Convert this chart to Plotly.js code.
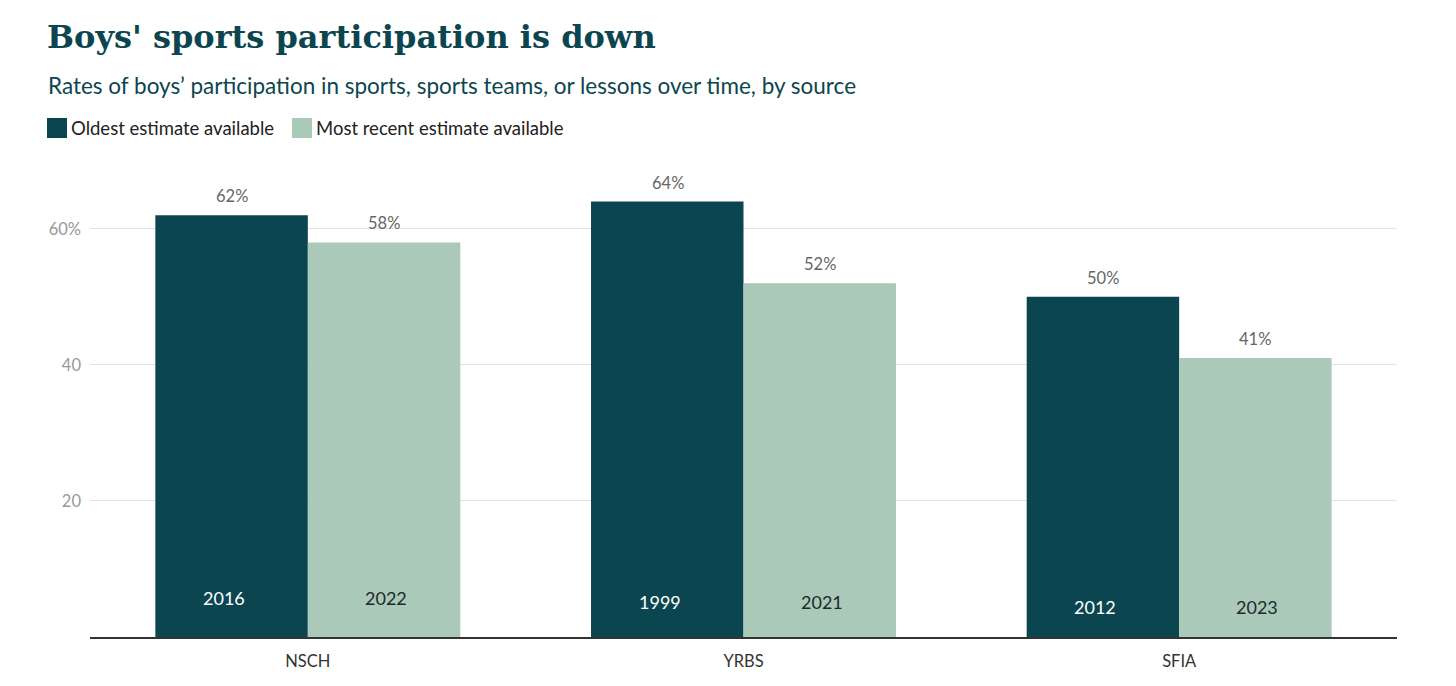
<!DOCTYPE html>
<html>
<head>
<meta charset="utf-8">
<script src="https://cdn.plot.ly/plotly-3.0.1.min.js"></script>
<style>html,body{margin:0;padding:0;background:#fff;}#chart{width:1456px;height:686px;}</style>
</head>
<body>
<div id="chart"></div>
<script>
const sources = ['NSCH', 'YRBS', 'SFIA'];
const oldestValues = [62, 64, 50];
const recentValues = [58, 52, 41];
const oldestYears = ['2016', '1999', '2012'];
const recentYears = ['2022', '2021', '2023'];
const seriesNames = ['Oldest estimate available', 'Most recent estimate available'];
const tickValues = [20, 40, 60];
const tickLabels = ['20', '40', '60%'];

const DARK = '#0b4650';
const LIGHT = '#abc9b9';
const FONT = 'Lato, "Noto Sans", sans-serif';

// plot-area geometry in pixels (layout only)
const W = 1456, H = 686, L = 90, R = 59, T = 171, B = 49;
const plotW = W - L - R, plotH = H - T - B;
const px2x = p => (p - L) / plotW;        // page x pixel -> paper x
const py2y = p => (H - B - p) / plotH;    // page y pixel -> paper y

// vertical placement of the year labels inside the bars (layout only)
const yearLabelY = [5.7, 5.1, 4.4];

const traces = [
  {type: 'bar', name: seriesNames[0], x: sources, y: oldestValues, marker: {color: DARK}, hoverinfo: 'skip'},
  {type: 'bar', name: seriesNames[1], x: sources, y: recentValues, marker: {color: LIGHT}, hoverinfo: 'skip'}
];

const annotations = [];
sources.forEach((s, i) => {
  annotations.push({x: s, y: oldestValues[i], xref: 'x', yref: 'y', xshift: -76, yshift: 7, yanchor: 'bottom', showarrow: false,
    text: oldestValues[i] + '%', font: {family: FONT, size: 16.5, color: '#666'}});
  annotations.push({x: s, y: recentValues[i], xref: 'x', yref: 'y', xshift: 76, yshift: 7, yanchor: 'bottom', showarrow: false,
    text: recentValues[i] + '%', font: {family: FONT, size: 16.5, color: '#666'}});
  annotations.push({x: s, y: yearLabelY[i], xref: 'x', yref: 'y', xshift: -84, yanchor: 'middle', showarrow: false,
    text: oldestYears[i], font: {family: FONT, size: 18, color: '#ffffff'}});
  annotations.push({x: s, y: yearLabelY[i], xref: 'x', yref: 'y', xshift: 78, yanchor: 'middle', showarrow: false,
    text: recentYears[i], font: {family: FONT, size: 18, color: '#1d2a2a'}});
});
// subtitle
annotations.push({xref: 'paper', yref: 'paper', x: px2x(46), y: py2y(86), xanchor: 'left', yanchor: 'middle', showarrow: false,
  text: 'Rates of boys’ participation in sports, sports teams, or lessons over time, by source',
  font: {family: FONT, size: 22.5, color: '#0b4650'}});
// legend labels
annotations.push({xref: 'paper', yref: 'paper', x: px2x(69), y: py2y(128), xanchor: 'left', yanchor: 'middle', showarrow: false,
  text: seriesNames[0], font: {family: FONT, size: 18.5, color: '#222'}});
annotations.push({xref: 'paper', yref: 'paper', x: px2x(314), y: py2y(128), xanchor: 'left', yanchor: 'middle', showarrow: false,
  text: seriesNames[1], font: {family: FONT, size: 18.5, color: '#222'}});

const shapes = [
  {type: 'rect', xref: 'paper', yref: 'paper', x0: px2x(47), x1: px2x(67), y0: py2y(138), y1: py2y(118), fillcolor: DARK, line: {width: 0}},
  {type: 'rect', xref: 'paper', yref: 'paper', x0: px2x(292), x1: px2x(312), y0: py2y(138), y1: py2y(118), fillcolor: LIGHT, line: {width: 0}}
];

const layout = {
  width: W, height: H,
  margin: {l: L, r: R, t: T, b: B},
  paper_bgcolor: '#fff', plot_bgcolor: '#fff',
  title: {text: "<b>Boys' sports participation is down</b>", xref: 'container', yref: 'container', x: 47/W, xanchor: 'left', y: 1 - 37/H, yanchor: 'middle',
    font: {family: '"DejaVu Serif", Georgia, serif', size: 32, color: '#0b4650'}},
  barmode: 'group', bargap: 0.3, bargroupgap: 0,
  showlegend: false,
  xaxis: {showgrid: false, showline: true, linecolor: '#333', linewidth: 1.5, ticks: '', ticklabelstandoff: 9,
    tickfont: {family: FONT, size: 16.5, color: '#333'}, fixedrange: true},
  yaxis: {range: [0, 68.5], tickvals: tickValues, ticktext: tickLabels, showgrid: true, gridcolor: '#e3e3e3', gridwidth: 1, zeroline: false,
    showline: false, ticks: '', ticklabelstandoff: 8, tickfont: {family: FONT, size: 16.5, color: '#999'}, fixedrange: true},
  annotations: annotations,
  shapes: shapes
};

Plotly.newPlot('chart', traces, layout, {displayModeBar: false, staticPlot: true});
</script>
</body>
</html>
